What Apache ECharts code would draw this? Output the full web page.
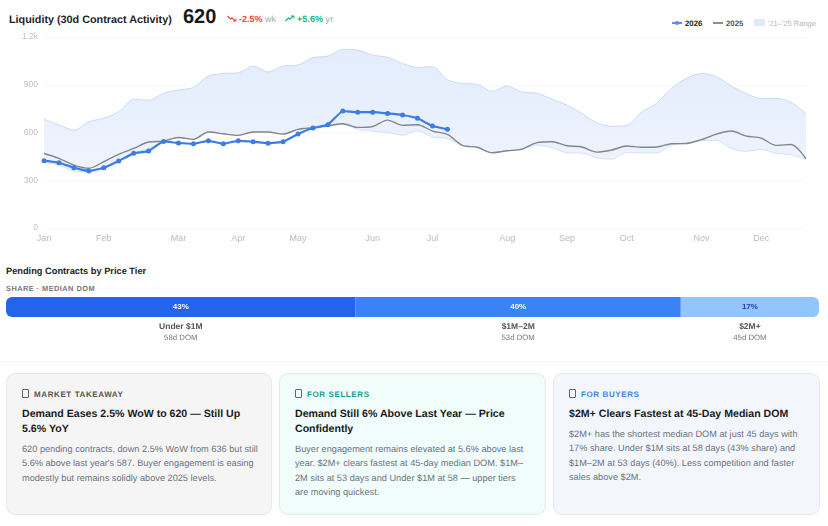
<!DOCTYPE html>
<html><head><meta charset="utf-8">
<script src="https://cdn.jsdelivr.net/npm/echarts@6/dist/echarts.min.js"></script>
<style>
html,body{margin:0;padding:0;background:#fff;width:828px;height:526px;overflow:hidden;font-family:"Liberation Sans",Arial,sans-serif;text-rendering:geometricPrecision}
.a{position:absolute;white-space:nowrap}
#line{position:absolute;left:0;top:25px;width:828px;height:225px}
#bar{position:absolute;left:0;top:292px;width:828px;height:30px}
.leg{font-size:7.8px;font-weight:700;color:#333}
.tier{position:absolute;top:320px;text-align:center;transform:translateX(-50%)}
.tier b{display:block;font-size:8.5px;color:#555;line-height:12px}
.tier span{display:block;font-size:7.8px;font-weight:400;color:#777;line-height:11px;margin-top:0}
.card{position:absolute;top:373px;height:140px;border:1px solid #e7e9ec;border-radius:9px;box-sizing:content-box}
.lab{position:absolute;left:15px;top:15px;font-size:8px;font-weight:700;letter-spacing:.6px;white-space:nowrap}
.lab i{display:inline-block;width:5px;height:7px;border:1px solid #666;border-radius:1px;margin-right:5px;vertical-align:-1px}
.hd{position:absolute;left:15px;top:33px;font-size:10.6px;font-weight:700;color:#1a1a1a;line-height:14.5px;width:240px}
.bd{position:absolute;left:15px;font-size:9.2px;color:#6b7280;line-height:14.4px;width:236px}
</style></head><body>
<div class="a" style="left:9px;top:13px;font-size:10.8px;font-weight:700;color:#1f2328;line-height:14px" id="title">Liquidity (30d Contract Activity)</div>
<div class="a" style="left:183px;top:5px;font-size:20px;font-weight:700;color:#16181c;line-height:24px">620</div>
<svg class="a" style="left:227px;top:15px" width="10" height="7" viewBox="0 0 10 7"><polyline points="0.5,1 3.5,4 5,3 8.5,6" fill="none" stroke="#ef4444" stroke-width="1.2"/><polyline points="6,6 9,6 9,3.5" fill="none" stroke="#ef4444" stroke-width="1"/></svg>
<div class="a" style="left:239px;top:13px;font-size:9px;line-height:12px;font-weight:700;color:#ef4444">-2.5% <span style="font-weight:400;color:#aaa">wk</span></div>
<svg class="a" style="left:285px;top:15px" width="10" height="7" viewBox="0 0 10 7"><polyline points="0.5,6 3.5,3 5,4 8.5,1" fill="none" stroke="#10b981" stroke-width="1.2"/><polyline points="6,1 9,1 9,3.5" fill="none" stroke="#10b981" stroke-width="1"/></svg>
<div class="a" style="left:297px;top:13px;font-size:9.1px;line-height:12px;font-weight:700;color:#10b981">+5.6% <span style="font-weight:400;color:#aaa">yr</span></div>

<svg class="a" style="left:671px;top:20px" width="12" height="6"><line x1="1" y1="3" x2="11" y2="3" stroke="#5b8dee" stroke-width="2"/><circle cx="6" cy="3" r="2" fill="#5b8dee"/></svg>
<div class="a leg" style="left:685px;top:18px;line-height:11px;color:#222">2026</div>
<svg class="a" style="left:712px;top:20px" width="12" height="6"><line x1="1" y1="3" x2="11" y2="3" stroke="#8a8d91" stroke-width="2"/></svg>
<div class="a leg" style="left:726px;top:18px;line-height:11px;color:#555">2025</div>
<div class="a" style="left:754px;top:19px;width:11px;height:7px;background:#dfe9fb;border-radius:1px"></div>
<div class="a" style="left:768px;top:18px;line-height:11px;font-size:7.5px;color:#b5b5b5">'21–'25 Range</div>

<div id="line"></div>

<div class="a" style="left:6px;top:265px;font-size:9.25px;font-weight:700;color:#222;line-height:12px">Pending Contracts by Price Tier</div>
<div class="a" style="left:6px;top:283px;font-size:7.4px;font-weight:700;color:#777;letter-spacing:.45px;line-height:11px">SHARE · MEDIAN DOM</div>
<div id="bar"></div>
<div id="tiers"></div>
<div class="a" style="left:0;top:361px;width:828px;height:1px;background:#f3f6f6"></div>

<div class="card" style="left:6px;width:264px;background:#f5f5f5">
 <div class="lab" style="color:#555"><i></i>MARKET TAKEAWAY</div>
 <div class="hd">Demand Eases 2.5% WoW to 620 — Still Up 5.6% YoY</div>
 <div class="bd" style="top:68px">620 pending contracts, down 2.5% WoW from 636 but still 5.6% above last year's 587. Buyer engagement is easing modestly but remains solidly above 2025 levels.</div>
</div>
<div class="card" style="left:279px;width:265px;background:#f0fdfb">
 <div class="lab" style="color:#1a9e8c"><i></i>FOR SELLERS</div>
 <div class="hd">Demand Still 6% Above Last Year — Price Confidently</div>
 <div class="bd" style="top:68px">Buyer engagement remains elevated at 5.6% above last year. $2M+ clears fastest at 45-day median DOM. $1M–2M sits at 53 days and Under $1M at 58 — upper tiers are moving quickest.</div>
</div>
<div class="card" style="left:553px;width:265px;background:#f3f6fd">
 <div class="lab" style="color:#3f84e5"><i></i>FOR BUYERS</div>
 <div class="hd">$2M+ Clears Fastest at 45-Day Median DOM</div>
 <div class="bd" style="top:53px">$2M+ has the shortest median DOM at just 45 days with 17% share. Under $1M sits at 58 days (43% share) and $1M–2M at 53 days (40%). Less competition and faster sales above $2M.</div>
</div>

<script>
// x tick labels by week index
const monthLabels = {0:'Jan',4:'Feb',9:'Mar',13:'Apr',17:'May',22:'Jun',26:'Jul',31:'Aug',35:'Sep',39:'Oct',44:'Nov',48:'Dec'};
const weeks = Array.from({length:52},(_,i)=>i);
const yTicks = {0:'0',300:'300',600:'600',900:'900',1200:'1.2k'};
const values2026 = [423,410,379,358,379,421,469,483,544,534,529,548,529,548,542,532,542,590,628,649,735,728,728,720,710,689,641,620];
const values2025 = [468,437,395,375,417,463,500,540,546,569,557,603,592,582,603,603,590,620,630,643,655,632,638,678,645,649,609,588,519,507,473,485,496,536,542,517,509,477,490,515,507,509,529,531,555,590,609,578,565,519,525,435];
const rangeLow  = [412,396,358,354,375,427,469,500,542,569,557,603,592,582,603,603,590,620,625,638,650,620,609,600,583,611,573,561,519,507,473,485,496,521,504,473,471,441,433,475,471,471,519,531,550,550,500,482,494,469,460,431];
const rangeHigh = [684,647,615,667,690,730,808,802,846,867,883,955,971,975,1017,980,1017,1024,1070,1080,1122,1118,1086,1072,1034,1009,1013,930,908,902,858,892,854,846,810,772,720,661,639,645,728,783,877,940,971,950,892,846,812,814,789,720];
const tiers = ['Under $1M','$1M–2M','$2M+'];
const tierShare = [43,40,17];
const tierDom = ['58d DOM','53d DOM','45d DOM'];
const tierColors = ['#2563eb','#3b82f6','#93c5fd'];
const tierLabelColors = ['#ffffff','#ffffff','#1e40af'];

const FONT='"Liberation Sans",Arial,sans-serif';
const lc=echarts.init(document.getElementById('line'),null,{renderer:'canvas'});
lc.setOption({
 animation:false,
 grid:{left:44,right:22,top:12,height:191},
 xAxis:{type:'category',data:weeks,boundaryGap:false,
  axisLine:{show:false},axisTick:{show:false},splitLine:{show:false},
  axisLabel:{interval:0,margin:6,fontSize:9,color:'#bababa',fontFamily:FONT,formatter:v=>monthLabels[v]||''}},
 yAxis:{type:'value',min:0,max:1200,interval:300,
  axisLine:{show:false},axisTick:{show:false},
  splitLine:{lineStyle:{color:'#f8f8f8',width:1}},
  axisLabel:{margin:6,fontSize:8.5,color:'#c2c2c2',fontFamily:FONT,padding:[3,0,0,0],formatter:v=>yTicks[v]}},
 series:[
  {type:'line',stack:'r',data:rangeLow,smooth:.3,symbol:'none',lineStyle:{color:'#d3e0f7',width:1},areaStyle:{opacity:0},z:1},
  {type:'line',stack:'r',data:rangeHigh.map((v,i)=>v-rangeLow[i]),smooth:.3,symbol:'none',lineStyle:{color:'#c9d9f6',width:1},
   areaStyle:{opacity:1,color:new echarts.graphic.LinearGradient(0,0,0,1,[{offset:0,color:'#e2ecfc'},{offset:1,color:'#eff4fe'}])},z:1},
  {type:'line',data:values2025,smooth:.3,symbol:'none',lineStyle:{color:'#83878c',width:1.4},z:2},
  {type:'line',data:values2026,smooth:.1,symbol:'circle',symbolSize:5,itemStyle:{color:'#3b7de4'},lineStyle:{color:'#3b7de4',width:2.2},z:3}
 ]
});
const bc=echarts.init(document.getElementById('bar'),null,{renderer:'canvas'});
bc.setOption({
 animation:false,
 grid:{left:6,right:9,top:5,height:20},
 xAxis:{type:'value',min:0,max:100,show:false},
 yAxis:{type:'category',data:['share'],show:false},
 series:tierShare.map((v,i)=>({type:'bar',stack:'s',data:[v],barWidth:20,
  itemStyle:{color:tierColors[i],borderRadius:i==0?[6,0,0,6]:i==2?[0,6,6,0]:0},
  label:{show:true,position:'inside',formatter:'{c}%',fontSize:8,fontWeight:'bold',color:tierLabelColors[i],fontFamily:FONT}}))
});
let acc=0;const T=document.getElementById('tiers');
tiers.forEach((t,i)=>{const c=6+813*(acc+tierShare[i]/2)/100;acc+=tierShare[i];
 const d=document.createElement('div');d.className='tier';d.style.left=c+'px';
 d.innerHTML='<b>'+t+'</b><span>'+tierDom[i]+'</span>';T.appendChild(d);});
</script>
</body></html>
